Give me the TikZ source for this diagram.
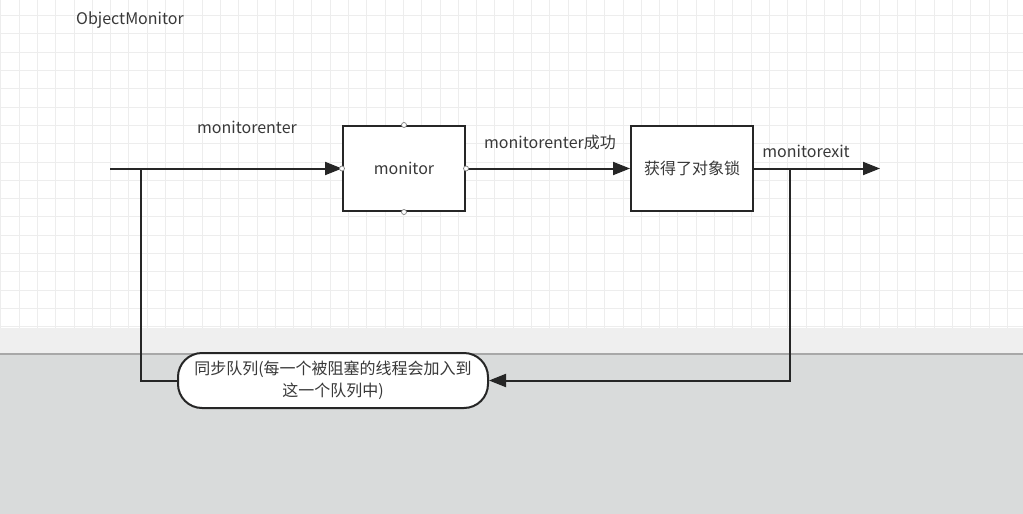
\documentclass[tikz,border=0pt]{standalone}
\usepackage{fontspec}
\setmainfont{Noto Sans CJK SC}
\usetikzlibrary{arrows.meta}
\definecolor{txt}{HTML}{383838}
\definecolor{ln}{HTML}{262626}
\definecolor{gridc}{HTML}{EDEDED}
\definecolor{band}{HTML}{EFEFEF}
\definecolor{lowgray}{HTML}{D9DBDB}
\definecolor{sep}{HTML}{A8A8A8}
\tikzset{
  x=1pt, y=-1pt,
  lbl/.style={text=txt, font=\fontsize{16}{19}\selectfont, inner sep=0pt},
  boxnode/.style={draw=ln, line width=2pt, fill=white, minimum width=122pt, minimum height=85pt, inner sep=0pt, text=txt, font=\fontsize{16}{19}\selectfont},
  queuenode/.style={draw=ln, line width=2pt, fill=white, rounded corners=24pt, minimum width=310pt, minimum height=55pt, inner sep=0pt, text=txt, align=center, font=\fontsize{16}{22}\selectfont},
  conn/.style={draw=ln, line width=2pt},
  arr/.style={conn, -{Triangle[length=17pt,width=13pt]}},
  port/.style={circle, draw=gray, fill=white, line width=0.7pt, minimum size=5pt, inner sep=0pt}
}
\begin{document}
\begin{tikzpicture}
\useasboundingbox (0,0) rectangle (1023,514);
% background
\fill[white] (0,0) rectangle (1023,328);
\foreach \i in {0,...,56} {\draw[gridc, line width=0.8pt] (0.7+18.3*\i,0) -- (0.7+18.3*\i,328);}
\foreach \j in {0,...,17} {\draw[gridc, line width=0.8pt] (0,15.5+18.3*\j) -- (1023,15.5+18.3*\j);}
\fill[band] (0,328) rectangle (1023,354);
\fill[lowgray] (0,354) rectangle (1023,514);
\draw[sep, line width=1.5pt] (0,354) -- (1023,354);

% title
\node[lbl, anchor=west] (title) at (76,20) {ObjectMonitor};

% nodes
\node[boxnode] (monitor) at (404,168.5) {monitor};
\node[boxnode] (lock) at (692,168.5) {获得了对象锁};
\node[queuenode] (queue) at (333,380.5) {同步队列(每一个被阻塞的线程会加入到\\这一个队列中)};

% coordinates
\coordinate (start) at (110,168.5);
\coordinate (join) at (141,168.5);
\coordinate (split) at (790,168.5);
\coordinate (exit) at (880,168.5);

% connectors
\draw[arr] (start) -- (monitor.west);
\draw[arr] (monitor.east) -- (lock.west);
\draw[arr] (lock.east) -- (exit);
\draw[arr] (split) |- (queue.east);
\draw[conn] (queue.west) -| (join);

% ports on monitor
\node[port] (pt) at (monitor.north) {};
\node[port] (pb) at (monitor.south) {};
\node[port] (pl) at (monitor.west) {};
\node[port] (pr) at (monitor.east) {};

% labels
\node[lbl] (l1) at (247,127) {monitorenter};
\node[lbl] (l2) at (550,142) {monitorenter成功};
\node[lbl] (l3) at (806,151) {monitorexit};
\end{tikzpicture}
\end{document}
